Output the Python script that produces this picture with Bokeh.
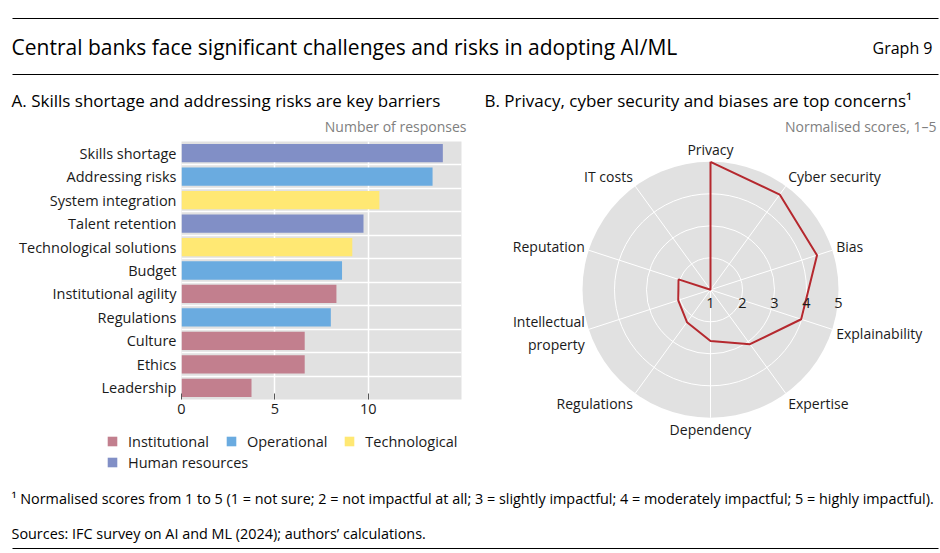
import numpy as np
from bokeh.plotting import figure
from bokeh.models import (Range1d, FixedTicker, Legend, LegendItem, ColumnDataSource)
from bokeh.layouts import column, row
from bokeh.embed import file_html
from bokeh.resources import INLINE
from bokeh.core.properties import value

FONT = "Open Sans"

# ---------------- data ----------------
barriers = ["Skills shortage", "Addressing risks", "System integration", "Talent retention",
            "Technological solutions", "Budget", "Institutional agility", "Regulations",
            "Culture", "Ethics", "Leadership"]
responses = [14.0, 13.45, 10.6, 9.75, 9.15, 8.6, 8.3, 8.0, 6.6, 6.6, 3.75]
barrier_group = ["Human resources", "Operational", "Technological", "Human resources",
                 "Technological", "Operational", "Institutional", "Operational",
                 "Institutional", "Institutional", "Institutional"]
groups = ["Institutional", "Operational", "Technological", "Human resources"]
group_colors = ["#c27f8e", "#6aabe0", "#ffe873", "#818fc6"]
x_ticks = [0, 5, 10]

concerns = ["Privacy", "Cyber security", "Bias", "Explainability", "Expertise", "Dependency",
            "Regulations", "Intellectual\nproperty", "Reputation", "IT costs"]
scores = [5.0, 4.68, 4.5, 3.98, 3.1, 2.6, 2.25, 2.06, 2.05, 1.0]
score_ticks = [1, 2, 3, 4, 5]

title = "Central banks face significant challenges and risks in adopting AI/ML"
graph_no = "Graph 9"
title_a = "A. Skills shortage and addressing risks are key barriers"
title_b = "B. Privacy, cyber security and biases are top concerns\u00b9"
unit_a = "Number of responses"
unit_b = "Normalised scores, 1\u20135"
footnote = ("\u00b9  Normalised scores from 1 to 5 (1 = not sure; 2 = not impactful at all; "
            "3 = slightly impactful; 4 = moderately impactful; 5 = highly impactful).")
sources = "Sources: IFC survey on AI and ML (2024); authors\u2019 calculations."

TXT = "#1a1a1a"
GRAY_BG = "#e1e1e1"


def blank(w, h, xr, yr):
    f = figure(width=w, height=h, x_range=xr, y_range=yr, x_axis_type=None, y_axis_type=None,
               toolbar_location=None, output_backend="svg", min_border=0)
    f.outline_line_color = None
    f.grid.visible = False
    return f

# ---------------- header ----------------
hdr = blank(940, 135, Range1d(0, 940), Range1d(135, 0))
hdr.segment(x0=[12, 12], y0=[18, 74], x1=[938, 938], y1=[18, 74], line_color="black", line_width=1.2)
hdr.text(x=[11], y=[46], text=[title], text_font=value(FONT), text_font_size="21px",
         text_baseline="middle", text_color="black")
hdr.text(x=[932], y=[47], text=[graph_no], text_font=value(FONT), text_font_size="16px",
         text_baseline="middle", text_align="right", text_color="black")
hdr.text(x=[11, 484], y=[100, 100], text=[title_a, title_b], text_font=value(FONT),
         text_font_size="17px", text_baseline="middle", text_color="black")
hdr.text(x=[466, 936], y=[126, 126], text=[unit_a, unit_b], text_font=value(FONT),
         text_font_size="14px", text_baseline="middle", text_align="right", text_color="#808080")

# ---------------- bar chart ----------------
n = len(barriers)
ypos = [n - 1 - i for i in range(n)]
bar = figure(width=470, height=290, x_range=Range1d(0, 15), y_range=Range1d(-0.5, n - 0.5),
             toolbar_location=None, output_backend="svg",
             min_border_left=181, min_border_right=9, min_border_top=6, min_border_bottom=26)
bar.outline_line_color = None
bar.background_fill_color = GRAY_BG
bar.border_fill_color = None

sources_by_group = {}
for g, c in zip(groups, group_colors):
    idx = [i for i, bg in enumerate(barrier_group) if bg == g]
    src = ColumnDataSource(dict(y=[ypos[i] for i in idx], right=[responses[i] for i in idx]))
    sources_by_group[g] = src
    bar.hbar(y="y", right="right", left=0, height=0.78, source=src,
             fill_color=c, line_color=None)

bar.xaxis.ticker = FixedTicker(ticks=x_ticks)
bar.yaxis.ticker = FixedTicker(ticks=ypos)
bar.yaxis.major_label_overrides = {ypos[i]: barriers[i] for i in range(n)}
for ax in (bar.xaxis, bar.yaxis):
    ax.axis_line_color = None
    ax.minor_tick_line_color = None
    ax.major_label_text_font = FONT
    ax.major_label_text_font_size = "14.5px"
    ax.major_label_text_color = TXT
bar.yaxis.major_tick_line_color = None
bar.yaxis.major_tick_in = 0
bar.yaxis.major_tick_out = 0
bar.yaxis.major_label_standoff = 5
bar.xaxis.major_tick_in = 6
bar.xaxis.major_tick_out = 0
bar.xaxis.major_tick_line_color = "#555555"
bar.xaxis.major_label_standoff = 4

bar.xgrid.ticker = FixedTicker(ticks=x_ticks[1:])
bar.ygrid.ticker = FixedTicker(ticks=[k + 0.5 for k in range(n - 1)])
bar.grid.grid_line_color = "white"
bar.grid.grid_line_width = 1.5

# legend (own strip under the bar panel; hidden renderers share the bar data)
legfig = blank(470, 55, Range1d(0, 15), Range1d(-0.5, n - 0.5))
leg_r = {}
for g, c in zip(groups, group_colors):
    leg_r[g] = legfig.hbar(y="y", right="right", left=0, height=0.78, source=sources_by_group[g],
                           fill_color=c, line_color=None, visible=False)
leg_kw = dict(padding=0, margin=0, border_line_color=None, background_fill_alpha=0,
              label_text_font=FONT, label_text_font_size="14.5px", label_text_color=TXT,
              glyph_width=12, glyph_height=12, label_standoff=10, spacing=16,
              orientation="horizontal", label_height=20)
leg1 = Legend(items=[LegendItem(label=g, renderers=[leg_r[g]]) for g in groups[:3]],
              location=(106, 29), **leg_kw)
leg2 = Legend(items=[LegendItem(label=groups[3], renderers=[leg_r[groups[3]]])],
              location=(106, 8), **leg_kw)
legfig.add_layout(leg1)
legfig.add_layout(leg2)

# ---------------- radar ----------------
S = 32.0
cx, cy = 240.0, 154.3
rad = blank(470, 345, Range1d(-cx / S, (470 - cx) / S), Range1d(-(345 - cy) / S, cy / S))
rmax = score_ticks[-1] - score_ticks[0]
rad.circle(x=[0], y=[0], radius=rmax, fill_color=GRAY_BG, line_color=None)
rad.circle(x=[0] * (rmax - 1), y=[0] * (rmax - 1), radius=list(range(1, rmax)),
           fill_color=None, line_color="white", line_width=1)
m = len(concerns)
ang = np.pi / 2 - 2 * np.pi * np.arange(m) / m
rad.segment(x0=0, y0=0, x1=rmax * np.cos(ang), y1=rmax * np.sin(ang), line_color="white", line_width=1)
r = np.array(scores) - score_ticks[0]
px = r * np.cos(ang)
py = r * np.sin(ang)
rad.line(x=list(px) + [px[0]], y=list(py) + [py[0]], line_color="#b5282e", line_width=2)

rad.text(x=[t - score_ticks[0] for t in score_ticks], y=[-0.42] * len(score_ticks),
         text=[str(t) for t in score_ticks], text_font=value(FONT), text_font_size="14.5px",
         text_align="center", text_baseline="middle", text_color=TXT)

rx, ry = 4.13, 4.38
cosv, sinv = np.cos(ang), np.sin(ang)
aligns = ["center" if abs(c) < 0.1 else ("left" if c > 0 else "right") for c in cosv]
rad.text(x=list(rx * cosv), y=list(ry * sinv), text=concerns, text_font=value(FONT),
         text_font_size="14px", text_align=aligns, text_baseline="middle",
         text_color=TXT, text_line_height=1.2)

# ---------------- footer ----------------
ftr = blank(940, 73, Range1d(0, 940), Range1d(73, 0))
ftr.text(x=[11, 11], y=[18, 53], text=[footnote, sources], text_font=value(FONT),
         text_font_size="14.4px", text_baseline="middle", text_color="black")
ftr.segment(x0=[12], y0=[68], x1=[938], y1=[68], line_color="black", line_width=1.2)

left_col = column(bar, row(legfig, spacing=0), spacing=0)
layout = column(hdr, row(left_col, column(rad, spacing=0), spacing=0), ftr, spacing=0)
open("out.html", "w").write(file_html(layout, INLINE))
